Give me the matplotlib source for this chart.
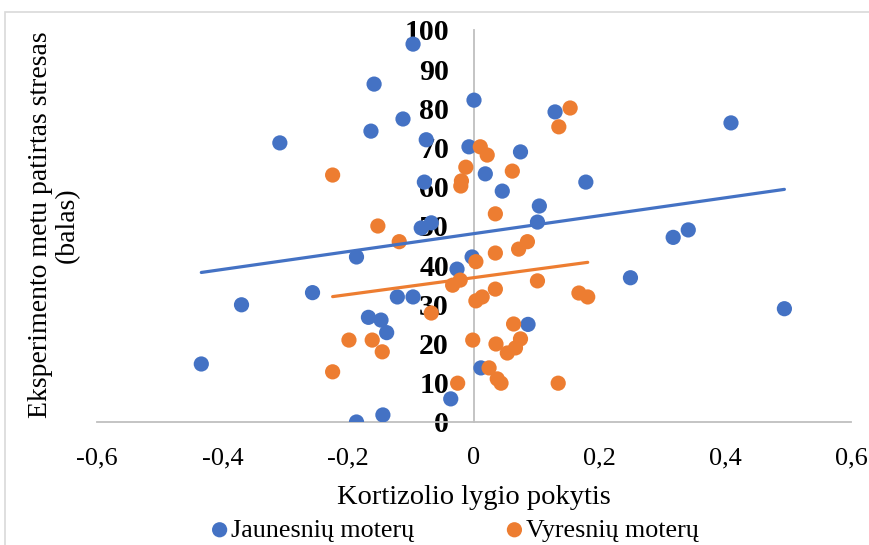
import numpy as np
import matplotlib.pyplot as plt
from matplotlib.patches import Rectangle

# ---- data: cortisol change vs. perceived stress ----
jaunesniu_x = [-0.097, -0.159, 0.000, -0.113, -0.164, -0.309, -0.076, -0.008, 0.129, 0.074,
               0.018, 0.045, 0.178, -0.079, 0.104, 0.101, -0.068, -0.084, -0.187, -0.003,
               -0.027, -0.257, -0.370, -0.122, -0.097, -0.168, -0.148, -0.139, -0.434, 0.011,
               0.086, 0.249, 0.317, 0.341, 0.409, 0.494, -0.037, -0.187, -0.145]
jaunesniu_y = [96.4, 86.2, 82.1, 77.3, 74.2, 71.2, 72.0, 70.2, 79.1, 68.9,
               63.3, 58.9, 61.2, 61.2, 55.1, 51.0, 50.8, 49.5, 42.1, 42.1,
               39.0, 33.0, 29.9, 31.9, 31.9, 26.7, 26.0, 22.8, 14.8, 13.8,
               24.9, 36.8, 47.1, 49.0, 76.3, 28.9, 5.9, 0.0, 1.8]

vyresniu_x = [0.153, 0.135, 0.010, 0.021, -0.013, 0.061, -0.225, -0.020, -0.021, 0.034,
              -0.153, -0.119, 0.085, 0.071, 0.034, 0.003, -0.022, -0.034, 0.101, 0.034,
              0.013, 0.003, 0.167, 0.181, -0.068, 0.063, -0.002, 0.035, 0.074, 0.066,
              0.053, -0.199, -0.162, -0.146, -0.225, 0.024, 0.037, 0.043, 0.134, -0.026]
vyresniu_y = [80.1, 75.3, 70.2, 68.1, 65.0, 64.0, 63.0, 61.5, 60.2, 53.1,
              50.0, 46.0, 46.0, 44.1, 43.1, 40.9, 36.2, 34.9, 36.0, 33.9,
              31.9, 30.9, 32.9, 31.9, 27.8, 25.0, 20.9, 19.9, 21.2, 18.9,
              17.6, 20.9, 20.9, 17.9, 12.8, 13.8, 11.0, 9.9, 9.9, 9.9]

x_ticks = [-0.6, -0.4, -0.2, 0, 0.2, 0.4, 0.6]
x_tick_labels = ["-0,6", "-0,4", "-0,2", "0", "0,2", "0,4", "0,6"]
y_ticks = [0, 10, 20, 30, 40, 50, 60, 70, 80, 90, 100]

BLUE = "#4472C4"
ORANGE = "#ED7D31"
GRID = "#BFBFBF"

plt.rcParams["font.family"] = ["Liberation Serif", "DejaVu Serif"]

fig = plt.figure(figsize=(8.7, 5.45), dpi=100)
ax = fig.add_axes([97 / 870, 1 - 422 / 545, (851 - 97) / 870, (422 - 30) / 545])

# outer chart frame
fig.patches.append(Rectangle((5 / 870, -0.1), 1.1, 1 - 12 / 545 + 0.1,
                             transform=fig.transFigure, fill=False,
                             edgecolor="#D9D9D9", linewidth=1.2))

ax.scatter(jaunesniu_x, jaunesniu_y, s=120, color=BLUE, edgecolor="none",
           label="Jaunesnių moterų", zorder=3)
ax.scatter(vyresniu_x, vyresniu_y, s=120, color=ORANGE, edgecolor="none",
           label="Vyresnių moterų", zorder=3)

# linear trend lines
for xs, ys, c in [(jaunesniu_x, jaunesniu_y, BLUE), (vyresniu_x, vyresniu_y, ORANGE)]:
    k, b = np.polyfit(xs, ys, 1)
    xx = np.array([min(xs), max(xs)])
    ax.plot(xx, k * xx + b, color=c, linewidth=2.3, solid_capstyle="round", zorder=4)

ax.set_xlim(-0.6, 0.6)
ax.set_ylim(0, 100)
ax.spines["top"].set_visible(False)
ax.spines["right"].set_visible(False)
ax.spines["left"].set_position(("data", 0))
for side in ["left", "bottom"]:
    ax.spines[side].set_color(GRID)
    ax.spines[side].set_linewidth(1.3)

ax.set_xticks(x_ticks)
ax.set_xticklabels(x_tick_labels, fontsize=19)
ax.set_yticks(y_ticks)
ax.set_yticklabels([str(v) for v in y_ticks], fontsize=21.5, fontweight="bold")
ax.tick_params(axis="x", length=0, pad=18)
ax.tick_params(axis="y", length=0, pad=18)

fig.text(474 / 870, 1 - 497 / 545, "Kortizolio lygio pokytis", fontsize=20.5,
         ha="center", va="center")
fig.text(54 / 870, 1 - 225 / 545, "Eksperimento metu patirtas stresas\n(balas)",
         fontsize=20, rotation=90, ha="center", va="center", linespacing=1.1)

fig.legend(loc="center", bbox_to_anchor=(456 / 870, 1 - 530 / 545), ncol=2,
           frameon=False, fontsize=18.7, handletextpad=0.2, columnspacing=3.6,
           markerscale=1.0, handlelength=0.5)

fig.savefig("out.png", dpi=100)
